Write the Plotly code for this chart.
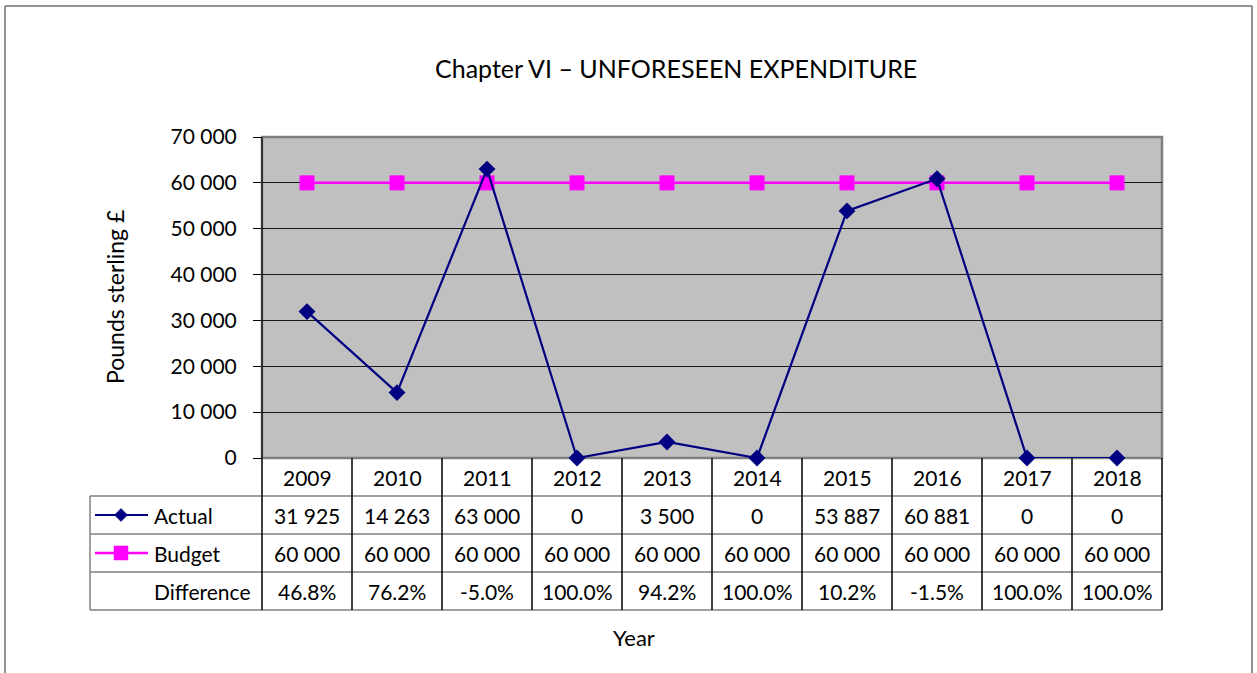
import plotly.graph_objects as go

years = ["2009", "2010", "2011", "2012", "2013", "2014", "2015", "2016", "2017", "2018"]
actual = [31925, 14263, 63000, 0, 3500, 0, 53887, 60881, 0, 0]
budget = [60000] * 10
difference = [46.8, 76.2, -5.0, 100.0, 94.2, 100.0, 10.2, -1.5, 100.0, 100.0]
y_ticks = [0, 10000, 20000, 30000, 40000, 50000, 60000, 70000]

W, H = 1257, 673
FONT = "Lato"
NAVY = "#000080"
MAG = "#FF00FF"


def fmt(v):
    return f"{v:,}".replace(",", " ")


def X(x):
    return x / W


def Y(y):
    return 1 - y / H


# plot area in pixels
PL, PR, PT, PB = 262, 1162, 137, 458
ROW_H = 38
TL = 90  # table left
COL_W = (PR - PL) / 10

fig = go.Figure()
fig.add_trace(go.Scatter(x=list(range(10)), y=budget, mode="lines+markers",
                         line=dict(color=MAG, width=2.5),
                         marker=dict(symbol="square", size=15, color=MAG),
                         name="Budget", cliponaxis=False))
fig.add_trace(go.Scatter(x=list(range(10)), y=actual, mode="lines+markers",
                         line=dict(color=NAVY, width=2.2),
                         marker=dict(symbol="diamond", size=13, color=NAVY),
                         name="Actual", cliponaxis=False))


def pline(x0, y0, x1, y1, color, width):
    return dict(type="line", xref="paper", yref="paper", x0=X(x0), x1=X(x1), y0=Y(y0), y1=Y(y1),
                line=dict(color=color, width=width))


shapes = []
# plot area border
shapes.append(dict(type="rect", xref="paper", yref="paper", x0=X(PL), x1=X(PR), y0=Y(PB), y1=Y(PT),
                   line=dict(color="#808080", width=2.5), layer="below"))
shapes.append(pline(PL, PT, PL, PB, "black", 1.2))
# table horizontal lines
for k in range(1, 5):
    yy = PB + ROW_H * k
    shapes.append(pline(TL, yy, PR, yy, "#808080", 1.5))
# vertical lines
shapes.append(pline(TL, PB + ROW_H, TL, PB + 4 * ROW_H, "#808080", 1.5))
for i in range(11):
    xx = PL + i * COL_W
    shapes.append(pline(xx, PB, xx, PB + 4 * ROW_H, "black", 1.5))
# outer chart border
shapes.append(pline(5, 6, 5, H + 5, "#6e6e6e", 1.5))
shapes.append(pline(5, 6, 1252, 6, "#6e6e6e", 1.5))
shapes.append(pline(1252, 6, 1252, H + 5, "#6e6e6e", 1.5))

# legend keys inside table
ky1 = PB + ROW_H * 1.5
ky2 = PB + ROW_H * 2.5
kx = 121
shapes.append(pline(95, ky1, 148, ky1, NAVY, 2.2))
d = 6.5
shapes.append(dict(type="path", xref="paper", yref="paper",
                   path=f"M {X(kx - d)},{Y(ky1)} L {X(kx)},{Y(ky1 - d)} L {X(kx + d)},{Y(ky1)} L {X(kx)},{Y(ky1 + d)} Z",
                   fillcolor=NAVY, line=dict(color=NAVY, width=0.5)))
shapes.append(pline(95, ky2, 148, ky2, MAG, 2.5))
s = 7
shapes.append(dict(type="rect", xref="paper", yref="paper",
                   x0=X(kx - s), x1=X(kx + s), y0=Y(ky2 + s), y1=Y(ky2 - s),
                   fillcolor=MAG, line=dict(color=MAG, width=0.5)))

ann = []
fs = 21
for i, yr in enumerate(years):
    cx = PL + (i + 0.5) * COL_W
    rows = [yr, fmt(actual[i]), fmt(budget[i]), f"{difference[i]:.1f}%"]
    for r, t in enumerate(rows):
        ann.append(dict(x=X(cx), y=Y(PB + ROW_H * (r + 0.5)), xref="paper", yref="paper", text=t,
                        showarrow=False, font=dict(size=fs, color="black", family=FONT),
                        xanchor="center", yanchor="middle"))
for r, t in enumerate(["Actual", "Budget", "Difference"]):
    ann.append(dict(x=X(152), y=Y(PB + ROW_H * (r + 1.5)), xref="paper", yref="paper", text=t,
                    showarrow=False, font=dict(size=fs, color="black", family=FONT),
                    xanchor="left", yanchor="middle"))
# title
ann.append(dict(x=X(676), y=Y(68), xref="paper", yref="paper", text="Chapter VI – UNFORESEEN EXPENDITURE",
                showarrow=False, font=dict(size=25, color="black", family=FONT),
                xanchor="center", yanchor="middle"))
# axis titles
ann.append(dict(x=X(634), y=Y(637), xref="paper", yref="paper", text="Year",
                showarrow=False, font=dict(size=22, color="black", family=FONT),
                xanchor="center", yanchor="middle"))
ann.append(dict(x=X(115), y=Y(297), xref="paper", yref="paper", text="Pounds sterling £", textangle=-90,
                showarrow=False, font=dict(size=23, color="black", family=FONT),
                xanchor="center", yanchor="middle"))

fig.update_layout(
    width=W, height=H,
    autosize=False,
    margin=dict(l=0, r=0, t=0, b=0, pad=0, autoexpand=False),
    paper_bgcolor="white",
    plot_bgcolor="#C0C0C0",
    showlegend=False,
    font=dict(family=FONT, color="black"),
    xaxis=dict(domain=[PL / W, PR / W], range=[-0.5, 9.5], showticklabels=False, automargin=False,
               showgrid=False, zeroline=False, ticks="", showline=False, fixedrange=True),
    yaxis=dict(domain=[(H - PB) / H, (H - PT) / H], range=[0, 70000], automargin=False,
               tickvals=y_ticks, ticktext=[fmt(v) for v in y_ticks],
               ticks="outside", ticklen=8, tickcolor="black", tickwidth=1.2,
               showline=False,
               showgrid=True, gridcolor="#1a1a1a", gridwidth=1, zeroline=False,
               tickfont=dict(size=21, family=FONT, color="black"), ticklabelstandoff=12),
    shapes=shapes,
    annotations=ann,
)

fig.write_html("out.html", config={"displayModeBar": False},
               post_script="document.body.style.margin='0';document.body.style.overflow='hidden';")
